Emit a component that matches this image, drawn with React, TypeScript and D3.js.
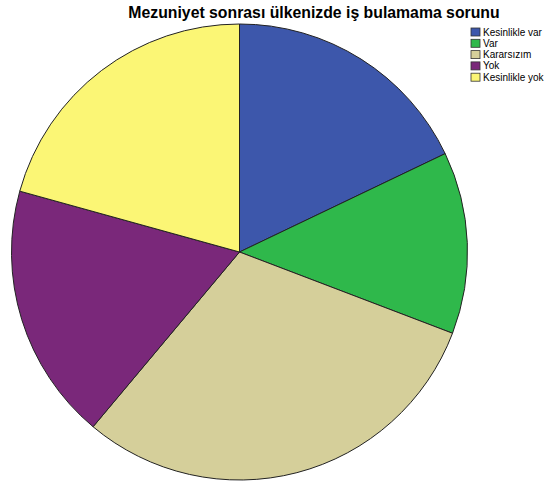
import React from "react";
import * as d3 from "d3";

const title = "Mezuniyet sonrası ülkenizde iş bulamama sorunu";
const categories = ["Kesinlikle var", "Var", "Kararsızım", "Yok", "Kesinlikle yok"];
const values = [17.9, 12.9, 30.3, 18.2, 20.7];
const colors = ["#3d57ab", "#2fb84b", "#d5cf9a", "#7a287a", "#fbf675"];

export default function App() {
  const W = 547, H = 486;
  const cx = 239.5, cy = 252, R = 228;
  const pie = d3.pie<number>().sort(null).value((d) => d)(values);
  const arc = d3.arc<d3.PieArcDatum<number>>().innerRadius(0).outerRadius(R);
  return (
    <svg width={W} height={H} style={{ position: "absolute", left: 0, top: 0 }}>
      <rect width={W} height={H} fill="#fff" />
      <g transform={`translate(${cx},${cy})`}>
        {pie.map((p, i) => (
          <path key={i} d={arc(p) || ""} fill={colors[i]} stroke="#222" strokeWidth={1} />
        ))}
      </g>
      <text x={314} y={18} textAnchor="middle" fontFamily="Liberation Sans, Arial, sans-serif" fontWeight="bold" fontSize={15.8} fill="#000">
        {title}
      </text>
      {categories.map((c, i) => (
        <g key={c} transform={`translate(471,${28 + i * 11.3})`}>
          <rect x={0} y={0} width={9} height={8} fill={colors[i]} stroke="#333" strokeWidth={0.8} />
          <text x={12} y={7.5} fontFamily="Liberation Sans, Arial, sans-serif" fontSize={10} fill="#000">
            {c}
          </text>
        </g>
      ))}
    </svg>
  );
}
